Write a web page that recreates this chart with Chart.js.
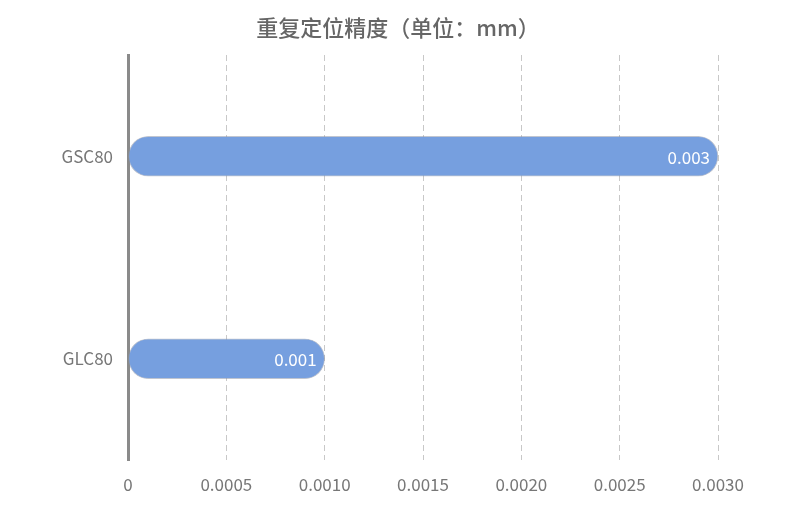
<!DOCTYPE html>
<html>
<head>
<meta charset="utf-8">
<script src="https://cdn.jsdelivr.net/npm/chart.js@4/dist/chart.umd.min.js"></script>
<style>
    html, body { margin: 0; padding: 0; background: #fff; }
    #wrap { width: 800px; height: 511px; }
</style>
</head>
<body>
<div id="wrap"><canvas id="precisaoChart"></canvas></div>
<script>
    // dados do gráfico
    const categorias = ['GSC80', 'GLC80'];
    const valores = [0.003, 0.001];
    const rotulosValor = ['0.003', '0.001'];
    const tituloGrafico = '重复定位精度（单位：mm）';

    const fonte = '"Noto Sans CJK SC", "Noto Sans", sans-serif';

    // título centrado na página inteira (o título do Chart.js centra só na área útil)
    const tituloPlugin = {
        id: 'tituloCentro',
        afterDraw(chart) {
            const ctx = chart.ctx;
            ctx.save();
            ctx.font = '500 22px ' + fonte;
            ctx.fillStyle = '#666666';
            ctx.textAlign = 'center';
            ctx.textBaseline = 'middle';
            ctx.fillText(tituloGrafico, chart.width / 2 - 2, 28);
            ctx.restore();
        }
    };

    // escreve o valor dentro da ponta da barra
    const rotulosPlugin = {
        id: 'rotulos',
        afterDatasetsDraw(chart) {
            const ctx = chart.ctx;
            const meta = chart.getDatasetMeta(0);
            ctx.save();
            ctx.font = '17px ' + fonte;
            ctx.fillStyle = '#ffffff';
            ctx.textAlign = 'right';
            ctx.textBaseline = 'middle';
            meta.data.forEach((bar, i) => {
                ctx.fillText(rotulosValor[i], bar.x - 8, bar.y + 1);
            });
            ctx.restore();
        }
    };

    const ctx = document.getElementById('precisaoChart').getContext('2d');
    window.chartInstancePrecisao = new Chart(ctx, {
        type: 'bar',
        data: {
            labels: categorias,
            datasets: [{
                data: valores,
                backgroundColor: '#769fdf',
                borderColor: 'rgba(140,150,170,0.55)',
                borderWidth: 1,
                borderRadius: 20,
                borderSkipped: false,
                barThickness: 40
            }]
        },
        options: {
            indexAxis: 'y',
            responsive: true,
            maintainAspectRatio: false,
            animation: false,
            layout: { padding: { left: 0, right: 82, top: 55, bottom: 0 } },
            plugins: {
                legend: { display: false },
                tooltip: { enabled: false },
                title: { display: false }
            },
            scales: {
                x: {
                    min: 0,
                    max: 0.003,
                    ticks: {
                        stepSize: 0.0005,
                        color: '#777777',
                        font: { family: fonte, size: 17 },
                        padding: 14,
                        callback: v => v === 0 ? '0' : Number(v).toFixed(4)
                    },
                    grid: {
                        color: '#c8c8c8',
                        lineWidth: 1,
                        drawTicks: false
                    },
                    border: { display: false, dash: [6, 4] },
                    afterFit: scale => { scale.height = 51; }
                },
                y: {
                    ticks: {
                        color: '#777777',
                        font: { family: fonte, size: 17 },
                        padding: 7
                    },
                    grid: { display: false },
                    border: { display: true, color: '#8a8a8a', width: 3 },
                    afterFit: scale => { scale.width = 128; }
                }
            }
        },
        plugins: [rotulosPlugin, tituloPlugin]
    });
</script>
</body>
</html>
